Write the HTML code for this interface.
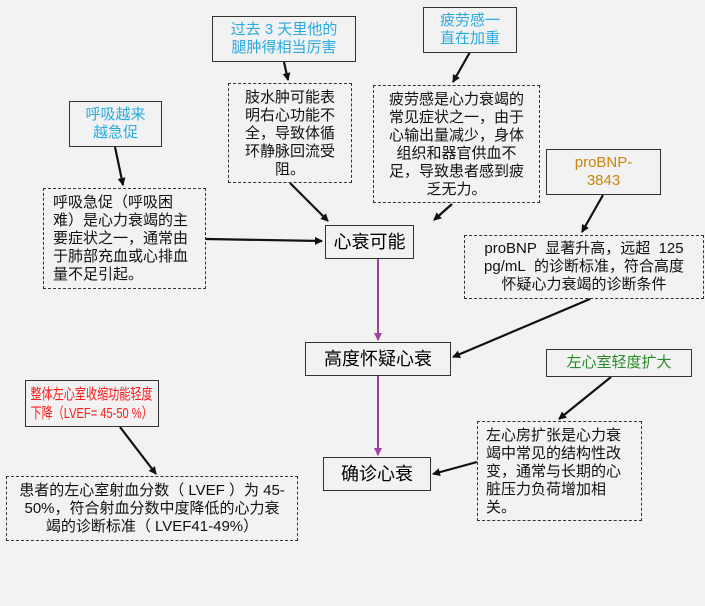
<!DOCTYPE html>
<html><head><meta charset="utf-8"><style>
body{margin:0;width:705px;height:606px;background:#f2f2f2;position:relative;overflow:hidden;font-family:"Liberation Sans","Noto Sans CJK SC",sans-serif;}
.b{position:absolute;box-sizing:border-box;border:1.5px solid #333;background:#f2f2f2;text-align:center;font-size:15px;line-height:18px;display:flex;align-items:center;justify-content:center;white-space:nowrap;}
.d{position:absolute;box-sizing:border-box;border:1.2px dashed #333;font-size:15px;line-height:18px;color:#111;padding:4px 8px;white-space:nowrap;}
.big{font-size:18px;}
svg{position:absolute;left:0;top:0;}
</style></head><body>
<svg width="705" height="606">
<defs>
<marker id="a" markerWidth="8" markerHeight="8" refX="7" refY="4" orient="auto" markerUnits="userSpaceOnUse"><path d="M0,0 L8,4 L0,8 z" fill="#111"/></marker>
<marker id="p" markerWidth="8" markerHeight="8" refX="7" refY="4" orient="auto" markerUnits="userSpaceOnUse"><path d="M0,0 L8,4 L0,8 z" fill="#a040a0"/></marker>
</defs>
<g stroke="#111" stroke-width="2.2" marker-end="url(#a)">
<line x1="284" y1="62" x2="288" y2="80"/>
<line x1="290" y1="183" x2="328" y2="221"/>
<line x1="115" y1="147" x2="123" y2="185"/>
<line x1="206" y1="239" x2="322" y2="241"/>
<line x1="470" y1="52" x2="453" y2="82"/>
<line x1="452" y1="204" x2="434" y2="220"/>
<line x1="603" y1="195" x2="582" y2="232"/>
<line x1="590" y1="299" x2="453" y2="357"/>
<line x1="611" y1="377" x2="559" y2="419"/>
<line x1="477" y1="462" x2="433" y2="474"/>
<line x1="120" y1="427" x2="156" y2="474"/>
</g>
<g stroke="#a040a0" stroke-width="2" marker-end="url(#p)">
<line x1="378" y1="259" x2="378" y2="340"/>
<line x1="378" y1="376" x2="378" y2="455"/>
</g>
</svg>
<div class="b" style="left:212px;top:16px;width:144px;height:46px;color:#29abe2">过去 3 天里他的<br>腿肿得相当厉害</div>
<div class="b" style="left:69px;top:101px;width:93px;height:46px;color:#29abe2">呼吸越来<br>越急促</div>
<div class="b" style="left:423px;top:7px;width:94px;height:46px;color:#29abe2">疲劳感一<br>直在加重</div>
<div class="b" style="left:546px;top:149px;width:115px;height:46px;color:#c8860a">proBNP-<br>3843</div>
<div class="b big" style="left:325px;top:225px;width:89px;height:34px">心衰可能</div>
<div class="b big" style="left:305px;top:342px;width:146px;height:34px">高度怀疑心衰</div>
<div class="b" style="left:546px;top:349px;width:146px;height:28px;color:#2a8a2a">左心室轻度扩大</div>
<div class="b" style="left:25px;top:380px;width:134px;height:47px;color:#ff1a1a;font-size:15px;line-height:19px"><span style="display:inline-block;transform:scaleX(0.74);text-align:left">整体左心室收缩功能轻度<br>下降（LVEF= 45-50 %）</span></div>
<div class="b big" style="left:323px;top:457px;width:108px;height:34px">确诊心衰</div>
<div class="d" style="left:228px;top:83px;width:124px;height:100px;text-align:center;padding:5px 0 0">肢水肿可能表<br>明右心功能不<br>全，导致体循<br>环静脉回流受<br>阻。</div>
<div class="d" style="left:43px;top:188px;width:163px;height:101px;padding-top:5px;padding-left:9px">呼吸急促（呼吸困<br>难）是心力衰竭的主<br>要症状之一，通常由<br>于肺部充血或心排血<br>量不足引起。</div>
<div class="d" style="left:373px;top:85px;width:167px;height:118px;text-align:center;padding:5px 0 0">疲劳感是心力衰竭的<br>常见症状之一，由于<br>心输出量减少，身体<br>组织和器官供血不<br>足，导致患者感到疲<br>乏无力。</div>
<div class="d" style="left:464px;top:235px;width:240px;height:64px;text-align:center;padding:4px 0 0">proBNP&nbsp; 显著升高，远超&nbsp; 125<br>pg/mL&nbsp; 的诊断标准，符合高度<br>怀疑心力衰竭的诊断条件</div>
<div class="d" style="left:477px;top:421px;width:165px;height:100px;padding-top:5px;padding-left:8px">左心房扩张是心力衰<br>竭中常见的结构性改<br>变，通常与长期的心<br>脏压力负荷增加相<br>关。</div>
<div class="d" style="left:6px;top:476px;width:292px;height:65px;text-align:center;padding:5px 0 0">患者的左心室射血分数（ LVEF ）为 45-<br>50%，符合射血分数中度降低的心力衰<br>竭的诊断标准（ LVEF41-49%）</div>
</body></html>
